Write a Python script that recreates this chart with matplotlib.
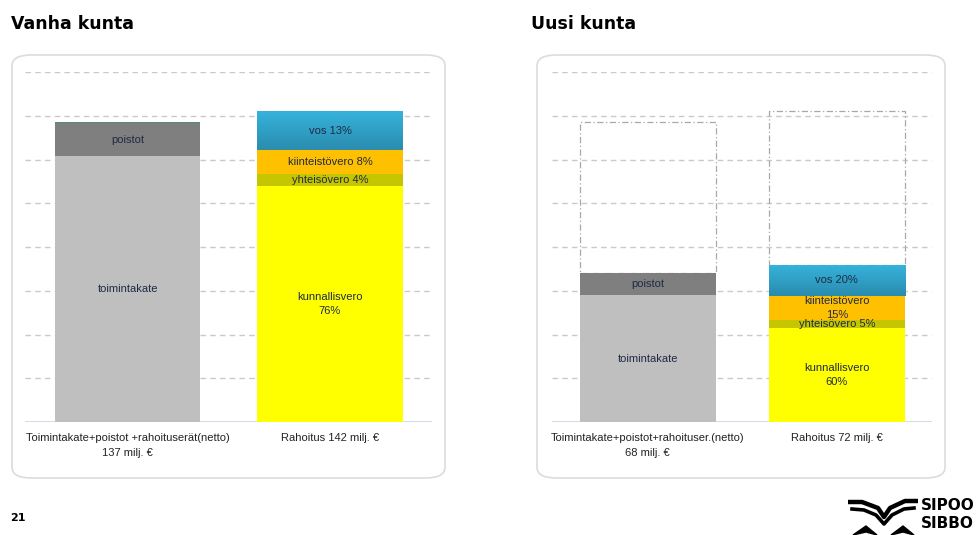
import numpy as np
import matplotlib
matplotlib.use("Agg")
import matplotlib.pyplot as plt
from matplotlib.patches import FancyBboxPatch, Rectangle
from matplotlib.colors import LinearSegmentedColormap

plt.rcParams['font.family'] = ['Liberation Sans', 'DejaVu Sans']

# data (milj. €)
cats_old = ["Toimintakate+poistot +rahoituserät(netto)\n137 milj. €", "Rahoitus 142 milj. €"]
cats_new = ["Toimintakate+poistot+rahoituser.(netto)\n68 milj. €", "Rahoitus 72 milj. €"]

cost_names = ["toimintakate", "poistot", "rahoituserät"]
cost_old = [121.5, 15.0, 0.6]
cost_new = [58.0, 10.0, 0.0]

fin_names = ["kunnallisvero", "yhteisövero", "kiinteistövero", "vos"]
fin_old = [108.0, 5.5, 11.0, 17.5]
fin_new = [43.2, 3.6, 10.8, 14.4]
fin_old_labels = ["kunnallisvero\n76%", "yhteisövero 4%", "kiinteistövero 8%", "vos 13%"]
fin_new_labels = ["kunnallisvero\n60%", "yhteisövero 5%", "kiinteistövero\n15%", "vos 20%"]
cost_labels = ["toimintakate", "poistot", ""]

ghost_new = [137, 142]  # old totals shown as dashed outlines

cost_colors = ["#bfbfbf", "#7f7f7f", "#4f8f6f"]
fin_colors = ["#ffff00", "#c6c600", "#ffc000", "#31aed6"]
label_color = "#1f2a44"
vos_cmap = LinearSegmentedColormap.from_list("vos", ["#2a8cae", "#36b3dc"])

W, H = 977, 535
fig = plt.figure(figsize=(W / 100, H / 100), dpi=100)
fig.patch.set_facecolor("white")


def fx(px):
    return px / W


def fy(py):
    return 1 - py / H


# rounded panels
for x0, x1 in [(12, 445), (537, 945)]:
    box = FancyBboxPatch((fx(x0), fy(478)), fx(x1 - x0), (478 - 55) / H,
                         boxstyle="round,pad=0,rounding_size=0.02",
                         transform=fig.transFigure, facecolor="white",
                         edgecolor="#dcdcdc", lw=1.2, zorder=-5)
    fig.patches.append(box)

fig.text(fx(11), fy(24), "Vanha kunta", fontsize=12.5, fontweight="bold",
         family="DejaVu Sans", va="center", ha="left")
fig.text(fx(531), fy(24), "Uusi kunta", fontsize=12.5, fontweight="bold",
         family="DejaVu Sans", va="center", ha="left")
fig.text(fx(10), fy(518), "21", fontsize=8, fontweight="bold", family="DejaVu Sans",
         va="center", ha="left")


def stack(ax, x, vals, colors, labels, width=0.72):
    bottom = 0
    for v, c, lab in zip(vals, colors, labels):
        if v <= 0:
            continue
        bars = ax.bar(x, v, width, bottom=bottom, color=c, zorder=3, lw=0)
        if c == fin_colors[-1]:
            # vos segment has a vertical gradient
            grad = np.linspace(0, 1, 64).reshape(-1, 1)
            im = ax.imshow(grad, cmap=vos_cmap, aspect="auto", origin="lower",
                           extent=(x - width / 2, x + width / 2, bottom, bottom + v),
                           zorder=3.5)
            im.set_clip_path(bars[0])
        if lab:
            ax.text(x, bottom + v / 2, lab, ha="center", va="center",
                    fontsize=8, color=label_color, zorder=4, linespacing=1.5)
        bottom += v
    return bottom


def panel(rect, cats, cost, fin, fin_labels, ghosts=None):
    ax = fig.add_axes(rect)
    for y in range(20, 161, 20):
        ax.axhline(y, color="#cacaca", lw=1, ls=(0, (4, 3)), zorder=1)
    ax.axhline(0, color="#c9d6e3", lw=1.2, zorder=2)
    tops = [stack(ax, 0, cost, cost_colors, cost_labels),
            stack(ax, 1, fin, fin_colors, fin_labels)]
    if ghosts:
        for i, g in enumerate(ghosts):
            ax.add_patch(Rectangle((i - 0.36, tops[i]), 0.72, g - tops[i], fill=False,
                                   edgecolor="#a8a8a8", lw=0.9,
                                   ls=(0, (5, 2, 1, 2)), zorder=2))
    ax.set_xlim(-0.507, 1.504)
    ax.set_ylim(0, 160)
    ax.set_xticks([0, 1])
    ax.set_xticklabels(cats, fontsize=8, color="#222222", linespacing=1.55)
    ax.tick_params(axis="x", length=0, pad=8)
    ax.set_yticks([])
    for s in ax.spines.values():
        s.set_visible(False)
    ax.patch.set_alpha(0)
    return ax


panel([fx(25), fy(422), fx(407), 350 / H], cats_old, cost_old, fin_old, fin_old_labels)
panel([fx(552), fy(422), fx(380), 350 / H], cats_new, cost_new, fin_new, fin_new_labels,
      ghosts=ghost_new)

# logo
lax = fig.add_axes([fx(848), fy(535), fx(70), 40 / H])
lax.set_xlim(848, 918)
lax.set_ylim(535, 495)
lax.axis("off")
lax.plot([850, 862, 878, 884, 890, 905, 916], [502, 502, 508, 517, 508, 501, 501],
         color="black", lw=3.2, solid_joinstyle="round")
lax.plot([852, 864, 876, 884, 892, 904, 914], [509, 510, 515, 524, 515, 509, 508],
         color="black", lw=2.6, solid_joinstyle="round")
lax.fill([853, 866, 877, 866], [535, 526, 535, 532], color="black")
lax.fill([891, 903, 914, 903], [535, 526, 535, 532], color="black")
fig.text(fx(921), fy(506), "SIPOO", fontsize=11, fontweight="bold",
         family="DejaVu Sans", va="center", ha="left")
fig.text(fx(921), fy(524), "SIBBO", fontsize=11, fontweight="bold",
         family="DejaVu Sans", va="center", ha="left")

fig.savefig("out.png", dpi=100)
